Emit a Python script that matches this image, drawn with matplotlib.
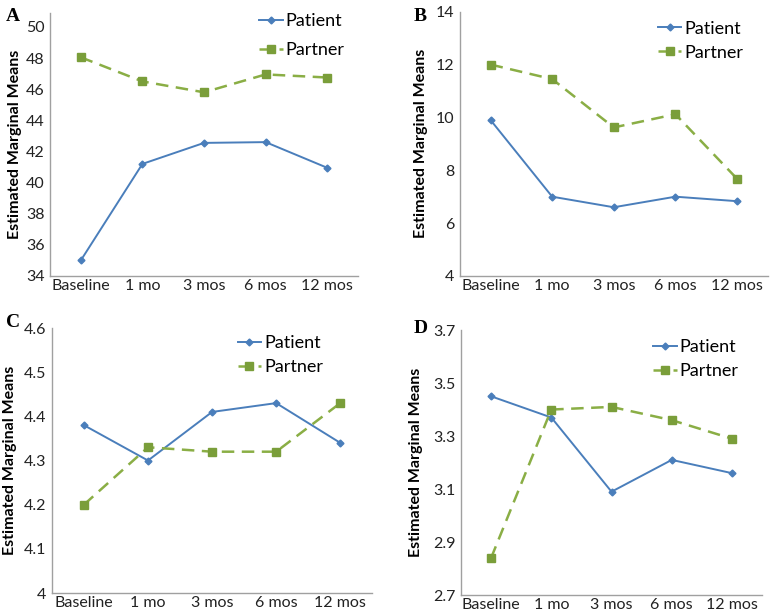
import matplotlib.pyplot as plt
import numpy as np

# time points
times = ['Baseline', '1 mo', '3 mos', '6 mos', '12 mos']

# panel A
patient_a = [35.0, 41.2, 42.55, 42.6, 40.95]
partner_a = [48.05, 46.5, 45.8, 46.95, 46.75]
# panel B
patient_b = [9.9, 7.0, 6.6, 7.0, 6.83]
partner_b = [12.0, 11.45, 9.62, 10.12, 7.68]
# panel C
patient_c = [4.38, 4.30, 4.41, 4.43, 4.34]
partner_c = [4.20, 4.33, 4.32, 4.32, 4.43]
# panel D
patient_d = [3.45, 3.37, 3.09, 3.21, 3.16]
partner_d = [2.84, 3.40, 3.41, 3.36, 3.29]

plt.rcParams['font.family'] = ['Lato', 'DejaVu Sans']

blue = '#4A7EBB'
green = '#8AAE45'
green_marker = '#7A9E3A'


def panel(fig, rect, patient, partner, yticks, ticklabels, ytop, letter, letter_pos,
          leg_anchor, leg_space, label_x):
    ax = fig.add_axes(rect)
    x = np.arange(len(times))
    ax.plot(x, patient, color=blue, lw=1.4, marker='D', ms=3.5,
            markerfacecolor=blue, markeredgecolor=blue, label='Patient')
    ax.plot(x, partner, color=green, lw=1.8, ls=(0, (5, 3)), marker='s', ms=6,
            markerfacecolor=green_marker, markeredgecolor=green_marker, label='Partner')
    ax.set_xlim(-0.5, len(times) - 0.5)
    ax.set_ylim(yticks[0], ytop)
    ax.set_yticks(yticks)
    ax.set_yticklabels(ticklabels)
    ax.set_xticks(x)
    ax.set_xticklabels(times)
    ax.tick_params(length=0, labelsize=11.5, colors='#222222')
    ax.tick_params(axis='x', pad=2)
    ax.tick_params(axis='y', pad=4)
    for s in ['top', 'right']:
        ax.spines[s].set_visible(False)
    for s in ['left', 'bottom']:
        ax.spines[s].set_color('#A0A0A0')
        ax.spines[s].set_linewidth(1.0)
    ax.set_ylabel('Estimated Marginal Means', fontsize=11.5, fontweight='bold')
    ax.yaxis.set_label_coords(label_x, 0.5)
    ax.legend(loc='upper left', bbox_to_anchor=leg_anchor, frameon=False,
              fontsize=13, handlelength=1.3, handletextpad=0.15, labelspacing=leg_space,
              borderaxespad=0, borderpad=0)
    fig.text(letter_pos[0], letter_pos[1], letter, fontsize=14, fontweight='bold',
             family='Liberation Serif', va='center', ha='left')
    return ax


fig = plt.figure(figsize=(7.74, 6.16), dpi=100)

panel(fig, [0.0646, 0.552, 0.398, 0.427], patient_a, partner_a,
      [34, 36, 38, 40, 42, 44, 46, 48, 50], [str(v) for v in range(34, 51, 2)], 50.9,
      'A', (0.008, 0.974), (0.68, 1.0), 0.72, -0.09)
panel(fig, [0.594, 0.552, 0.398, 0.429], patient_b, partner_b,
      [4, 6, 8, 10, 12, 14], ['4', '6', '8', '10', '12', '14'], 14,
      'B', (0.535, 0.974), (0.643, 0.966), 0.45, -0.104)
panel(fig, [0.067, 0.0373, 0.414, 0.4302], patient_c, partner_c,
      [4.0, 4.1, 4.2, 4.3, 4.4, 4.5, 4.6], ['4', '4.1', '4.2', '4.3', '4.4', '4.5', '4.6'], 4.6,
      'C', (0.008, 0.477), (0.58, 0.974), 0.45, -0.11)
panel(fig, [0.5956, 0.034, 0.389, 0.4302], patient_d, partner_d,
      [2.7, 2.9, 3.1, 3.3, 3.5, 3.7], ['2.7', '2.9', '3.1', '3.3', '3.5', '3.7'], 3.7,
      'D', (0.535, 0.466), (0.638, 0.966), 0.45, -0.126)

fig.savefig('out.png', dpi=100)
